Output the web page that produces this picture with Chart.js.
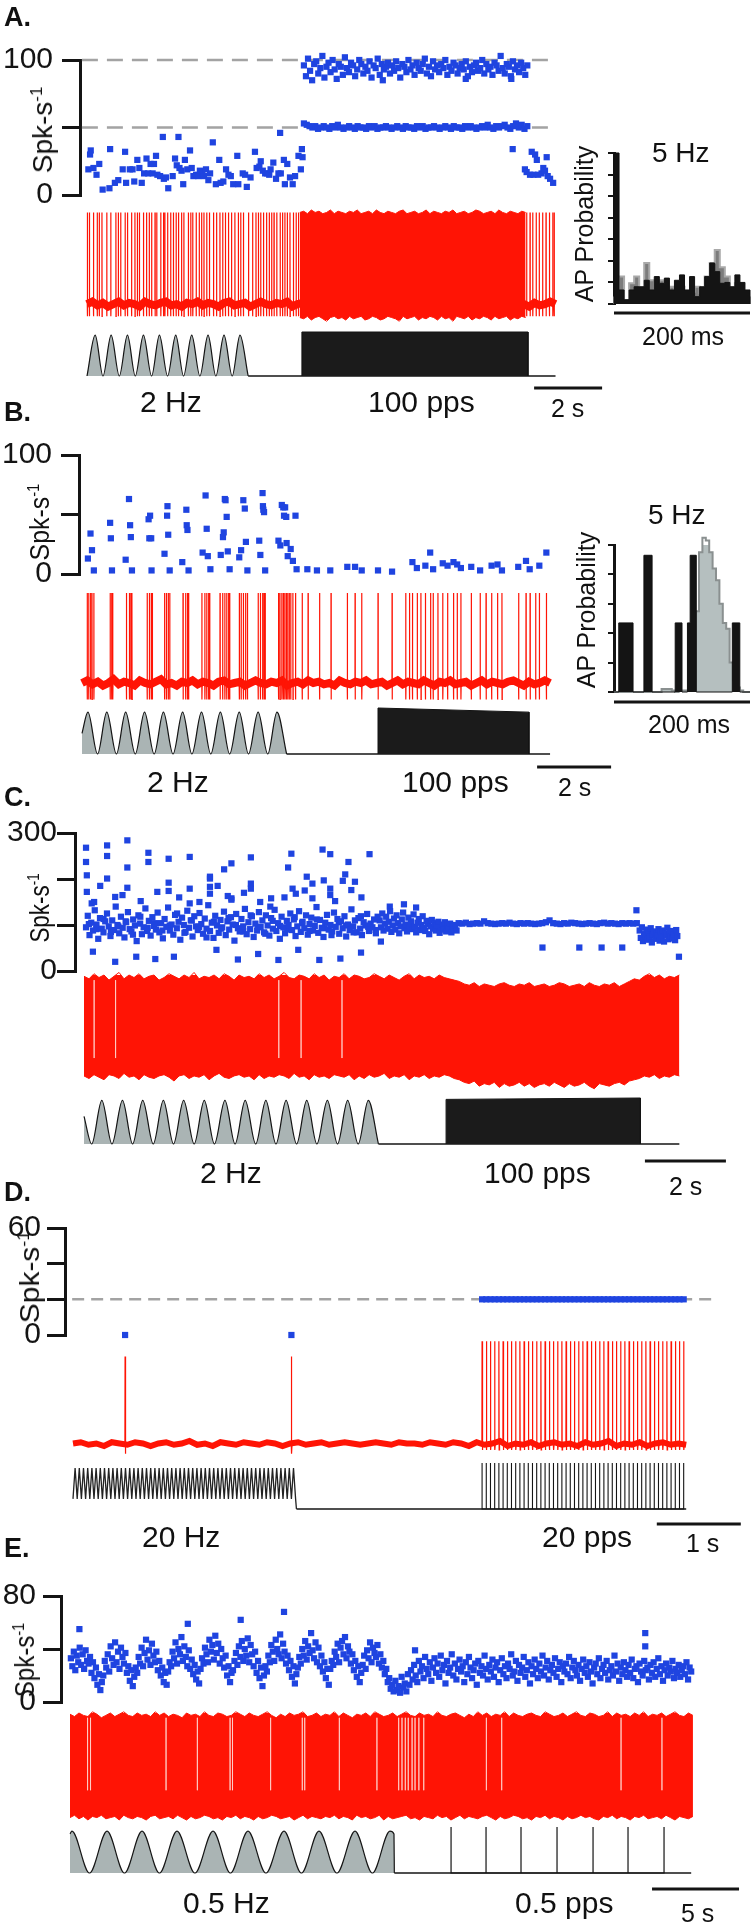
<!DOCTYPE html>
<html>
<head>
<meta charset="utf-8">
<script src="https://cdn.jsdelivr.net/npm/chart.js@4.4.1/dist/chart.umd.min.js"></script>
<style>
  body { margin: 0; background: #fff; }
  #fig { position: relative; width: 755px; height: 1925px; overflow: hidden; font-family: 'Liberation Sans', Arial, sans-serif; color: #111; }
  #fig canvas { position: absolute; }
  .t { position: absolute; white-space: nowrap; line-height: 1; }
</style>
</head>
<body>
<div id="fig"></div>
<script>
// ---------- Panel A data (time in s, rate in spk/s, trace in mV) ----------
const aRatePts = [[0.04,19],[0.09,30],[0.11,33],[0.19,20],[0.28,15],[0.36,23],[0.46,4],[0.66,5],[0.68,34],[0.82,9],[0.92,11],[1.05,19],[1.12,32],[1.15,9],[1.26,19],[1.34,19],[1.39,10],[1.48,26],[1.54,20],[1.61,9],[1.68,16],[1.75,27],[1.80,16],[1.87,23],[1.93,16],[1.97,23],[2.03,29],[2.07,15],[2.15,14],[2.23,43],[2.26,12],[2.32,13],[2.39,5],[2.52,14],[2.59,27],[2.64,22],[2.69,43],[2.72,20],[2.78,18],[2.83,8],[2.88,26],[2.95,19],[3.03,33],[3.08,20],[3.13,14],[3.21,15],[3.27,14],[3.32,18],[3.39,16],[3.44,14],[3.50,19],[3.57,11],[3.62,16],[3.70,39],[3.79,8],[3.89,26],[3.93,9],[4.01,10],[4.09,19],[4.16,15],[4.23,14],[4.30,8],[4.42,29],[4.45,8],[4.58,16],[4.65,15],[4.70,6],[4.81,13],[4.94,32],[4.99,20],[5.07,21],[5.11,25],[5.17,18],[5.24,16],[5.30,16],[5.36,15],[5.40,19],[5.48,24],[5.56,12],[5.63,16],[5.68,46],[5.70,16],[5.79,26],[5.82,8],[5.89,23],[5.97,13],[6.05,8],[6.12,14],[6.22,29],[6.29,19],[6.32,34],[6.34,28],
  [12.52,34],[12.88,19],[12.93,17],[13.03,15],[13.08,32],[13.13,15],[13.18,30],[13.23,26],[13.27,15],[13.37,16],[13.42,20],[13.47,18],[13.52,28],[13.55,14],[13.62,12],[13.71,9]];
const aFastSpan = [6.38, 12.95];
const aFastHi = [96,88,101,92,85,97,99,90,94,103,87,95,98,91,100,93,86,97,95,89,102,94,91,98,96,88,93,100,97,90,95,92,99,87,96,94,101,89,97,93,95,98,90,96,92,99,94,87,97,95,91,100,93,96,89,98,94,92,97,101,90,95,88,99,93,96,91,97,94,100,89,95,92,98,96,90,94,97,93,99,88,95,91,96,98,92,94,100,90,97,93,95,89,98,96,92,103,94,90,97,95,88,99,93,96,91,98,94,89,96];
const aFastMid = [53,52,51,50,51,49,50,51,50,49,51,50,52,50,49,50,51,50,49,51,50,50,49,51,50,51,49,50,50,51,50,49,50,51,50,49,51,50,50,49,51,50,51,49,50,50,51,50,49,50,51,50,49,51,50,50,49,51,50,51,50,49,50,51,50,52,50,49,51,50,51,52,50,49,51,53,50,52,49,51];
const aFastOut = [[6.45,104],[7.2,106],[8.84,113],[8.91,106],[10.68,106],[11.46,105],[12.88,105],[8.70,85],[11.14,86],[12.48,86]];
const aGuideSpan = [-0.15, 13.76];
const aGuideLevels = [100, 50];
const aSpikeT = [0.01,0.07,0.19,0.30,0.36,0.44,0.58,0.70,0.85,0.92,0.99,1.12,1.19,1.31,1.41,1.48,1.54,1.66,1.75,1.83,1.90,2.00,2.05,2.17,2.25,2.29,2.37,2.46,2.54,2.62,2.69,2.78,2.85,2.98,3.05,3.11,3.21,3.30,3.37,3.44,3.52,3.60,3.72,3.81,3.91,3.99,4.07,4.16,4.25,4.35,4.45,4.52,4.60,4.75,4.87,4.97,5.04,5.11,5.19,5.28,5.36,5.43,5.50,5.58,5.68,5.75,5.82,5.89,5.97,6.07,6.15,6.22,
  12.93,13.03,13.11,13.21,13.30,13.40,13.50,13.60,13.70,13.74];
const aBaseNoise = [-62,-60,-63,-61,-64,-62,-60,-63,-61,-62,-64,-60,-62,-63,-61,-60,-63,-62,-64,-61,-62,-60,-63,-61,-62,-64,-61,-60,-63,-62,-61,-64,-62,-60,-62,-63,-61,-62,-60,-64,-62,-61,-63,-60,-62,-61,-63,-62,-64,-60,-62,-63,-61,-62,-60,-63,-62,-61,-64,-62,-60,-63,-61,-62,-63,-60,-62,-64,-61,-62,-60,-63,-62,-61,-64,-62,-60,-63,-61,-62,-63,-61,-60,-62,-64,-61,-63,-62,-60,-62];
const aDenseSpan = [6.26, 12.9];
const aDenseTop = [13,14,12,15,13,14,12,13,15,12,14,13,12,14,13,15,12,13,14,12,15,13,12,14,13,12,14,15,12,13,14,12,13,15,12,14,13,12,14,13,15,12,13,14,12,13,15,14,12,13,14,12,15,13,12,14,13,12,14,13];
const aDenseBot = [-73,-74,-72,-75,-73,-72,-74,-76,-73,-72,-74,-73,-75,-72,-74,-73,-72,-75,-74,-72,-73,-75,-74,-72,-73,-74,-76,-72,-74,-73,-72,-75,-73,-74,-72,-73,-75,-72,-74,-73,-76,-72,-73,-74,-72,-75,-73,-74,-72,-73,-75,-72,-74,-73,-72,-75,-73,-74,-72,-73];
const aTraceEnd = 13.78;
const aStimT = [0,0.24,0.47,0.71,0.95,1.19,1.42,1.66,1.90,2.13,2.37,2.61,2.84,3.08,3.32,3.56,3.79,4.03,4.27,4.50,4.74];
const aBlock = [6.32, 12.97];
const aScaleBar = [13.15, 2];
const aHistBlack = [0.70,0.065,0.02,0.065,0.08,0.08,0.11,0.065,0.127,0.096,0.12,0.065,0.11,0.135,0.065,0.127,0.034,0.08,0.127,0.19,0.15,0.096,0.10,0.08,0.135,0.10,0.065];
const aHistGray = [0.03,0.127,0.01,0.096,0.127,0.065,0.19,0.11,0.05,0.11,0.05,0.08,0.05,0.08,0.05,0.057,0.08,0.05,0.127,0.19,0.25,0.17,0.127,0.065,0.096,0.05,0.03];

// ---------- Panel B ----------
const bRatePts = [[0.16,13],[0.23,34],[0.27,20],[0.32,3],[0.76,43],[0.78,30],[0.81,3],[1.18,12],[1.27,63],[1.30,41],[1.32,31],[1.35,3],[1.80,46],[1.82,30],[1.84,49],[1.87,30],[1.88,3],[2.23,17],[2.30,49],[2.31,57],[2.33,33],[2.37,3],[2.71,10],[2.82,54],[2.83,41],[2.85,37],[2.88,3],[3.26,18],[3.34,66],[3.37,38],[3.40,15],[3.47,4],[3.75,16],[3.81,31],[3.83,35],[3.86,63],[3.88,62],[3.91,48],[3.94,19],[3.99,4],[4.25,14],[4.30,20],[4.36,62],[4.40,55],[4.43,27],[4.47,3],[4.79,28],[4.82,16],[4.88,68],[4.89,57],[4.90,54],[4.92,52],[4.95,3],[5.31,28],[5.36,24],[5.40,58],[5.44,56],[5.46,49],[5.49,56],[5.49,109],[5.52,48],[5.53,26],[5.56,15],[5.64,21],[5.70,11],[5.77,49],[5.80,4],[6.09,4],[6.35,3],[6.71,3],[7.17,6],[7.38,6],[7.56,3],[8.00,3],[8.38,2],[8.93,10],[9.05,5],[9.28,7],[9.41,18],[9.49,4],[9.75,9],[9.88,7],[10.04,10],[10.14,8],[10.24,5],[10.52,6],[10.76,3],[11.07,7],[11.23,8],[11.35,3],[11.79,6],[12.00,11],[12.10,4],[12.36,7],[12.55,18]];
const bSpikeT = [0.14,0.18,0.23,0.27,0.32,0.76,0.80,0.83,1.20,1.28,1.32,1.35,1.76,1.82,1.87,1.90,2.23,2.28,2.33,2.37,2.73,2.80,2.85,2.88,3.24,3.32,3.37,3.42,3.45,3.73,3.80,3.86,3.91,3.96,3.99,4.25,4.30,4.36,4.42,4.47,4.76,4.82,4.88,4.92,4.95,5.31,5.35,5.40,5.44,5.48,5.52,5.56,5.60,5.64,5.70,
  5.77,5.95,6.11,6.42,6.73,7.17,7.38,7.56,8.00,8.38,8.75,8.85,8.93,9.06,9.16,9.28,9.42,9.49,9.62,9.75,9.88,10.04,10.14,10.24,10.52,10.76,10.92,11.07,11.23,11.35,11.80,12.00,12.11,12.26,12.36,12.55];
const bBaseNoise = [-60,-58,-61,-59,-62,-60,-57,-61,-59,-60,-62,-58,-60,-61,-59,-57,-61,-60,-62,-59,-60,-58,-61,-59,-60,-62,-59,-58,-61,-60,-59,-62,-60,-58,-60,-61,-59,-60,-58,-62,-60,-59,-61,-58,-60,-59,-61,-60,-62,-58,-60,-61,-59,-60,-58,-61,-60,-59,-62,-60,-58,-61,-59,-60,-61,-58,-60,-62,-59,-60,-58,-61,-60,-59,-62,-60,-58,-61,-59,-60,-61,-59,-58,-60,-62,-59,-61,-60,-58,-60];
const bTraceEnd = 12.65;
const bStimStart = [0, 0.45];
const bStimT = [0.16,0.42,0.67,0.93,1.18,1.44,1.69,1.95,2.20,2.46,2.72,2.97,3.23,3.48,3.74,3.99,4.25,4.50,4.76,5.02,5.27,5.53];
const bBlock = [8.0, 12.08];
const bBlockTop = [1.0, 0.91];
const bScaleBar = [12.30, 2];
const bHistGray = [0,0,0,0,0,0,0,0,0,0,0,0,0,0,0.02,0.02,0.02,0.01,0,0.01,0.01,0.01,0.02,0.02,0.55,0.95,1.05,1.03,0.95,0.84,0.76,0.6,0.47,0.43,0.2,0.08,0.03,0.01,0,0];
const bHistBlack = [[0,0],[7,0.47],[28,0],[44,0.93],[56,0],[90,0.47],[100,0],[108,0.47],[112,0.93],[121,0],[174,0.47],[185,0],[200,0]];

// ---------- Panel C ----------
const cSeg1 = [95,120,78,105,88,132,101,70,115,92,84,108,125,97,76,110,89,140,100,82,118,94,73,106,128,91,86,112,99,65,121,103,80,95,136,87,109,77,117,98,90,127,84,104,71,113,96,138,88,101,79,122,93,107,68,116,100,85,131,94,110,75,119,97,89,126,102,81,114,92,143,87,105,72,120,99,83,111,95,129,78,108,90,117,101,66,124,93,86,113,97,135,80,106,91,119,74,103,88,128,96,110,84,121,99,77,115,92,133,87,104,70,118,95,82,109,100,125,89,112,76,97,130,85,107,93,121,79,102,116,88,98,139,83,111,94,74,105,122,90,100,86,127,96,113,81,108,93,119,75,101,89,134,97,110,84,115,92,78,106,99,124,87,103,95,112,82,118];
const cSeg1Span = [0.05, 7.25];
const cSeg1b = [102,91,113,85,97,108,79,118,94,104,88,99,125,83,110,96,73,107,92,115,100,86,121,95,81,109,98,90,117,104,87,112,93,78,106,99,84,119,96,89];
const cSeg1bSpan = [0.12, 7.2];
const cSeg2 = [110,95,125,88,103,118,92,107,130,85,99,114,90,121,104,82,97,112,127,93,101,86,116,98,108,91,123,96,84,105,113,89,100,119,94,87,109,102,80,97,111,92,104,88,99,107,83,95,101,90,106,86,98,93,103,84,96,91,100,88];
const cSeg2Span = [7.3, 9.2];
const cSeg3 = [104,103,105,102,103,104,103,108,104,103,102,103,104,103,105,103,102,104,103,104,103,102,103,104,106,110,104,103,102,104,103,105,104,103,102,103,104,103,102,104,105,103,104,103,102,104,103,104,103,104];
const cSeg3Span = [9.25, 13.65];
const cSeg4 = [88,72,95,65,80,76,90,68,84,74,93,62,79,86,70,82,77,91,66,85,73,88,64,81,78,94,69,83,75,87,71,80,67,89,76];
const cSeg4Span = [13.72, 14.65];
const cOut = [[0.05,268],[0.05,237],[0.07,208],[0.07,172],[0.57,273],[0.57,250],[0.57,201],[1.07,284],[1.07,225],[1.07,181],[1.59,257],[1.59,237],[2.09,244],[2.09,192],[2.09,174],[2.61,248],[2.61,179],[3.11,201],[3.11,183],[3.11,168],[3.46,221],[3.64,234],[3.64,158],[4.12,247],[4.12,190],[4.12,179],[4.62,158],[5.04,225],[5.12,255],[5.15,179],[5.64,190],[5.89,264],[6.08,254],[5.92,197],[6.08,179],[6.39,196],[6.53,237],[6.69,194],[7.05,254],[0.19,147],[0.77,161],[1.81,172],[2.61,147],[3.11,205],[3.64,155],[4.60,140],[5.23,168],[5.64,158],[6.08,165],[6.60,176],[7.90,145],
  [0.25,150],[0.95,165],[1.40,152],[2.35,160],[2.85,150],[3.55,163],[3.95,170],[4.35,150],[4.95,160],[5.45,175],[6.20,152],[6.85,160],[7.55,140],[8.2,138],[0.4,185],[3.3,185],[5.5,205],[6.45,210],
  [0.22,42],[0.77,20],[1.29,31],[1.76,26],[2.22,31],[3.27,46],[3.80,25],[4.30,37],[4.80,24],[5.29,46],[5.81,24],[6.33,27],[6.84,40],[7.33,64],[14.69,31],[13.64,132],[11.32,51],[12.23,51],[12.78,51],[13.29,51]];
const cTraceEnd = 14.7;
const cEnvTop = [14,12,16,13,15,11,14,17,12,15,13,16,12,14,15,11,13,16,14,12,15,13,17,12,14,13,15,12,16,14,11,15,13,14,12,16,13,15,12,14,17,13,12,15,14,12,16,13,15,11,14,13,16,12,15,14,12,13,16,14,12,15,13,11,14,16,12,15,13,14,12,15,13,12,11,10,
  8,7,9,6,8,7,6,8,9,7,6,8,7,9,6,7,8,6,7,9,8,6,7,8,6,9,7,6,8,7,9,6,8,10,12,11,
  14,16,13,15,12,14,13,15];
const cEnvBot = [-64,-66,-63,-65,-67,-63,-64,-66,-62,-65,-64,-67,-63,-65,-66,-64,-63,-65,-68,-64,-63,-66,-64,-65,-63,-67,-64,-62,-65,-66,-64,-63,-65,-64,-67,-63,-66,-64,-65,-63,-64,-66,-62,-65,-64,-67,-63,-65,-64,-66,-63,-64,-65,-63,-67,-64,-66,-63,-65,-64,-62,-66,-64,-65,-63,-67,-64,-65,-63,-66,-64,-65,-63,-64,-66,-67,
  -69,-70,-68,-72,-70,-71,-69,-73,-70,-72,-71,-69,-72,-70,-73,-71,-70,-72,-69,-71,-73,-70,-72,-71,-69,-72,-74,-70,-71,-72,-70,-69,-71,-68,-67,-66,
  -64,-65,-63,-66,-64,-65,-63,-64];
const cGapT = [0.25,0.78,4.81,5.36,6.37];
const cStimStart = [0, 0.6];
const cStimT = [0.19,0.44,0.69,0.95,1.20,1.45,1.71,1.96,2.21,2.46,2.72,2.97,3.22,3.48,3.73,3.98,4.24,4.49,4.74,4.99,5.25,5.50,5.75,6.01,6.26,6.51,6.77,7.02,7.27];
const cBlock = [8.94, 13.74];
const cBlockTop = [0.97, 1.0];
const cScaleBar = [13.85, 2];

// ---------- Panel D ----------
const dLoneRate = [[0.62,0],[2.60,0]];
const dEvokedRate = 20;
const dGuideSpan = [-0.01, 7.67];
const dGuideLevel = 20;
const dLoneSpikeT = [0.62, 2.60];
const dPulseT = [4.87,4.92,4.97,5.02,5.07,5.12,5.17,5.22,5.27,5.32,5.37,5.42,5.47,5.52,5.57,5.62,5.67,5.72,5.77,5.82,5.87,5.92,5.97,6.02,6.07,6.12,6.17,6.22,6.27,6.32,6.37,6.42,6.47,6.52,6.57,6.62,6.67,6.72,6.77,6.82,6.87,6.92,6.97,7.02,7.07,7.12,7.17,7.22,7.27];
const dBaseNoise = [-66,-65,-67,-66,-68,-65,-66,-67,-65,-66,-68,-66,-65,-67,-66,-64,-67,-66,-68,-65,-66,-67,-65,-66,-67,-65,-66,-68,-66,-65,-67,-66,-65,-67,-66,-65,-66,-67,-66,-65,-66,-67,-65,-66,-66,-67,-65,-66,-67,-65,-66,-68,-65,-67,-66,-64,-68,-66,-67,-65,-68,-66,-65,-67,-66,-68,-65,-67,-66,-64,-68,-66,-67,-65,-68,-66,-65,-67,-66,-67];
const dTraceEnd = 7.30;
const dStimT = [0,.025,.05,.075,.1,.125,.15,.175,.2,.225,.25,.275,.3,.325,.35,.375,.4,.425,.45,.475,.5,.525,.55,.575,.6,.625,.65,.675,.7,.725,.75,.775,.8,.825,.85,.875,.9,.925,.95,.975,1,1.025,1.05,1.075,1.1,1.125,1.15,1.175,1.2,1.225,1.25,1.275,1.3,1.325,1.35,1.375,1.4,1.425,1.45,1.475,1.5,1.525,1.55,1.575,1.6,1.625,1.65,1.675,1.7,1.725,1.75,1.775,1.8,1.825,1.85,1.875,1.9,1.925,1.95,1.975,2,2.025,2.05,2.075,2.1,2.125,2.15,2.175,2.2,2.225,2.25,2.275,2.3,2.325,2.35,2.375,2.4,2.425,2.45,2.475,2.5,2.525,2.55,2.575,2.6,2.625,2.65];
const dScaleBar = [6.95, 1];

// ---------- Panel E ----------
const eSeg1 = [33,27,38,24,35,30,41,28,36,25,39,31,29,34,22,30,18,26,13,21,9,15,
  20,31,26,36,23,42,33,28,45,30,38,25,41,34,29,37,22,27,16,24,12,19,
  26,22,34,29,41,27,37,47,32,39,28,44,35,30,38,24,31,20,26,15,22,13,
  23,30,27,38,33,45,29,40,36,49,31,42,34,27,39,25,32,21,28,17,23,14,
  25,33,29,41,36,30,47,38,43,32,50,37,44,29,40,33,26,35,20,27,15,22,
  24,31,37,28,42,34,46,31,40,35,48,30,43,36,27,38,22,31,18,26,12,20,
  27,23,35,30,43,38,31,47,40,36,51,33,44,38,29,35,24,31,19,27,14,21,
  26,34,29,40,35,46,32,42,37,52,39,33,45,30,41,27,35,23,30,18,25,13,
  25,31,28,38,34,44,30,41,46,36,49,33,42,38,29,36,24,31,19,27,15,22,
  28,35,25,39,33,45,30,41,37,34,43,29,36,26,31,21,25,15,18,10,13,8];
const eSeg1Span = [0.05, 18.6];
const eSeg2 = [16,9,12,7,19,11,14,8,21,13,24,17,28,20,15,31,23,27,18,34,25,21,30,16,26,33,22,29,19,35,24,28,14,31,22,26,36,20,29,17,25,32,23,27,15,30,21,34,26,18,24,29,13,31,22,27,20,35,25,17,28,23,32,19,26,30,15,24,33,21,27,18,29,25,36,20,23,31,16,28,22,26,34,19,24,30,14,27,21,32,25,18,29,23,35,20,26,31,17,24,28,22,33,19,25,30,15,27,23,29,21,34,18,26,31,24,20,28,16,25,32,22,27,19,30,23,14,26,29,21,33,18,25,28,22,31,17,24,27,20,35,23,29,16,26,21,30,24,19,28,22,32,18,25,27,15,29,23,20,31,24,26,17,28,22,30,19,25,33,21,27,16,24,29,20,26,23,31,18,25,22,28,19,24,27,21,30,17,26,23];
const eSeg2Span = [18.7, 35.7];
const eOut = [[12.30,68],[9.81,62],[6.77,59],[0.54,55],[33.06,52],[33.06,42],[19.83,39]];
const eTraceEnd = 35.8;
const eEnvTop = [14,12,15,13,12,16,14,11,13,15,12,14,16,13,12,15,13,14,12,16,13,15,12,14,13,11,15,13,14,12,16,13,12,15,14,12,13,16,14,12,15,13,12,14,16,13,11,14,12,15,13,14,16,12,13,15,12,14,13,16,12,15,13,11,14,13,15,12,16,14,12,13,15,12,14,16,13,12,15,13,14,12,16,13,12,14,15,13,11,14,12,16,13,15,12,14,13,16,12,15,13,12,14,15,13,12,16,14,12,13,15,12,14,16,13,12,15,14,12,13,16,12,15,13,14,12,15,13,16,12,14,13,15,12,14,16,13,12,15,13];
const eEnvBot = [-73,-71,-74,-72,-75,-72,-73,-71,-74,-73,-72,-75,-71,-73,-74,-72,-73,-75,-72,-71,-74,-73,-72,-74,-71,-73,-75,-72,-74,-73,-71,-72,-74,-73,-75,-72,-73,-71,-74,-72,-73,-75,-72,-74,-73,-71,-72,-74,-73,-72,-75,-73,-71,-74,-72,-73,-74,-72,-73,-71,-74,-72,-73,-75,-71,-73,-72,-74,-73,-71,-75,-72,-74,-73,-72,-71,-74,-73,-75,-72,-73,-74,-71,-73,-72,-75,-73,-71,-74,-72,-73,-74,-72,-71,-73,-75,-72,-74,-73,-71,-72,-74,-73,-75,-72,-73,-71,-74,-72,-73,-75,-72,-74,-73,-71,-73,-72,-74,-75,-72,-73,-71,-74,-72,-73,-75,-72,-73,-71,-74,-73,-72,-74,-71,-73,-75,-72,-73,-74,-72];
const eGapT = [1.01,1.18,5.52,7.32,9.2,9.34,11.53,13.35,13.49,15.48,17.64,18.89,19.08,19.27,19.44,19.66,19.83,20.05,20.33,23.93,24.81,31.67,34.02];
const eStimStart = [0, 0.85];
const eStimT = [0.11,1.12,2.13,3.13,4.14,5.14,6.15,7.18,8.22,9.22,10.23,11.26,12.30,13.30,14.31,15.34,16.38,17.38,18.39];
const eStimEnd = [[18.62,0.85],[18.64,0]];
const ePulseT = [21.9,23.91,25.92,27.99,30.06,32.07,34.14];
const eScaleBar = [33.45, 5];

// ---------- layout (page pixels) ----------
const W = 755;
const FONT = "'Liberation Sans', Arial, sans-serif";
const RED = '#ff1405', BLUE = '#1f44e0', INK = '#141414', DASH = '#a3a3a3', SINE_FILL = '#aab4b4';
const PA = { L: 80, R: 560, x0: 87, pps: 34 };
const PB = { L: 79, R: 556, x0: 82, pps: 37 };
const PC = { L: 75, R: 686, x0: 84, pps: 40.5 };
const PD = { L: 65, R: 722, x0: 73, pps: 84 };
const PE = { L: 61, R: 700, x0: 70, pps: 17.4 };

Chart.defaults.font.family = FONT;
Chart.defaults.color = INK;
const fig = document.getElementById('fig');

function canvasAt(left, top, w, h) {
    const c = document.createElement('canvas');
    c.width = w; c.height = h;
    c.style.left = left + 'px'; c.style.top = top + 'px';
    c.style.width = w + 'px'; c.style.height = h + 'px';
    fig.appendChild(c);
    return c.getContext('2d');
}

function baseOpts() {
    return { animation: false, responsive: false, events: [],
        plugins: { legend: { display: false }, tooltip: { enabled: false } } };
}

// helpers turning the arrays into {x, y} points
const pts = pairs => pairs.map(([x, y]) => ({ x, y }));
const evenly = (vals, [t0, t1]) => vals.map((y, i) => ({ x: t0 + (t1 - t0) * i / (vals.length - 1), y }));
const flat = ([t0, t1], y) => [{ x: t0, y }, { x: t1, y }];

function spikes(times, base, peak, trough) {
    const out = [];
    times.forEach(t => out.push({ x: t - 0.002, y: base }, { x: t, y: peak }, { x: t + 0.003, y: trough }, { x: t + 0.008, y: base }));
    return out;
}
function wave(times, lo, hi, firstHi, head, tail) {
    const out = head ? [{ x: head[0], y: head[1] }] : [];
    times.forEach((t, i) => out.push({ x: t, y: ((i % 2 === 0) === firstHi) ? hi : lo }));
    (tail || []).forEach(([x, y]) => out.push({ x, y }));
    return out;
}
function pulses(times, top) {
    const out = [];
    times.forEach(t => out.push({ x: t, y: 0 }, { x: t, y: top }, { x: t, y: 0 }));
    return out;
}
function gaps(times, y0, y1) {
    const out = [];
    times.forEach(t => out.push({ x: t, y: y0 }, { x: t, y: y1 }, { x: t, y: null }));
    return out;
}
function bins(vals, width) {
    return [{ x: 0, y: 0 }, ...vals.map((y, i) => ({ x: i * width, y })), { x: vals.length * width, y: 0 }];
}

// dataset styles
const dots = data => ({ data, showLine: false, pointStyle: 'rect', pointRadius: 4.4, pointBackgroundColor: BLUE, pointBorderWidth: 0 });
const dashed = (data, dash) => ({ data, borderColor: DASH, borderWidth: 2.5, borderDash: dash });
const red = (data, w) => ({ data, borderColor: RED, borderWidth: w || 1.2 });
const ink = (data, w) => ({ data, borderColor: INK, borderWidth: w || 1.6 });
const sine = data => ({ data, borderColor: INK, borderWidth: 1.2, backgroundColor: SINE_FILL, fill: 'origin', cubicInterpolationMode: 'monotone' });
const block = ([a, b], [h1, h2]) => ({ data: [{ x: a, y: 0 }, { x: a, y: h1 }, { x: b, y: h2 }, { x: b, y: 0 }],
    borderColor: INK, borderWidth: 1, backgroundColor: '#1b1b1b', fill: 'origin' });
const envelope = (top, bot, span) => [
    { data: evenly(top, span), borderColor: RED, borderWidth: 1, backgroundColor: RED, fill: '+1' },
    { data: evenly(bot, span), borderColor: RED, borderWidth: 1 }];
const whiteGaps = data => ({ data, borderColor: 'rgba(255,225,220,0.55)', borderWidth: 1 });

function scaleBar([start, len], dy) {
    return { id: 'scaleBar', afterDraw(chart) {
        const x = chart.scales.x, c = chart.ctx, y = chart.chartArea.bottom + dy;
        c.save(); c.strokeStyle = INK; c.lineWidth = 3; c.beginPath();
        c.moveTo(x.getPixelForValue(start), y); c.lineTo(x.getPixelForValue(start + len), y);
        c.stroke(); c.restore();
    } };
}

function rateAxis(width, ax) {
    return {
        display: true, position: 'left',
        afterBuildTicks: s => { s.ticks = ax.ticks.map(v => ({ value: v })); },
        afterFit: s => { s.width = width; },
        ticks: { autoSkip: false, color: INK, padding: ax.pad, font: { size: 30 }, callback: v => ax.labels.includes(v) ? String(v) : '' },
        grid: { drawOnChartArea: false, drawTicks: true, tickLength: 18, lineWidth: 3, color: INK },
        border: { display: true, color: INK, width: 3 }
    };
}

function rowChart(p, r, datasets, plugins) {
    const ctx = canvasAt(0, r.top - r.padT, W, r.bottom - r.top + r.padT + r.padB);
    const y = { type: 'linear', min: r.min, max: r.max, display: false };
    if (r.axis) Object.assign(y, rateAxis(p.L, r.axis));
    return new Chart(ctx, {
        type: 'line',
        data: { datasets: datasets.map(d => Object.assign({ clip: false, pointRadius: 0, borderWidth: 1.2, fill: false }, d)) },
        options: Object.assign(baseOpts(), {
            layout: { padding: { left: r.axis ? 0 : p.L, right: W - p.R, top: r.padT, bottom: r.padB } },
            scales: { x: { type: 'linear', min: (p.L - p.x0) / p.pps, max: (p.R - p.x0) / p.pps, display: false }, y }
        }),
        plugins: plugins || []
    });
}

function insetChart(box, yTicks, datasets, barDy) {
    const AW = 12, padT = 16, padB = 16, padR = W - box.right;
    const ctx = canvasAt(box.left - AW, box.top - padT, box.right - box.left + AW + padR, box.bottom - box.top + padT + padB);
    return new Chart(ctx, {
        type: 'line',
        data: { datasets: datasets.map(d => Object.assign({ clip: false, pointRadius: 0, stepped: true, fill: 'origin' }, d)) },
        options: Object.assign(baseOpts(), {
            layout: { padding: { left: 0, right: padR, top: padT, bottom: padB } },
            scales: {
                x: { type: 'linear', min: 0, max: 200, display: false },
                y: { type: 'linear', min: 0, max: yTicks[yTicks.length - 1], position: 'left',
                    afterBuildTicks: s => { s.ticks = yTicks.map(v => ({ value: v })); },
                    afterFit: s => { s.width = AW; },
                    ticks: { display: false, autoSkip: false },
                    grid: { drawOnChartArea: false, drawTicks: true, tickLength: 6, lineWidth: 2, color: INK },
                    border: { display: true, color: INK, width: 3 } }
            }
        }),
        plugins: [scaleBar([0, 200], barDy)]
    });
}

function text(str, x, base, size, bold) {
    const d = document.createElement('div');
    d.className = 't';
    d.textContent = str;
    d.style.fontSize = size + 'px';
    d.style.left = x + 'px';
    d.style.top = (base - 0.8465 * size) + 'px';
    if (bold) d.style.fontWeight = 'bold';
    fig.appendChild(d);
}
function vtext(html, cx, cy, size, stretch) {
    const d = document.createElement('div');
    d.className = 't';
    d.innerHTML = html;
    d.style.fontSize = size + 'px';
    d.style.left = cx + 'px';
    d.style.top = cy + 'px';
    d.style.transform = `translate(-50%,-50%) rotate(-90deg) scaleX(${stretch})`;
    fig.appendChild(d);
}
const SPK = 'Spk-s<span style="font-size:0.6em;position:relative;top:-0.6em">-1</span>';

// ---------- Panel A ----------
rowChart(PA, { top: 60, bottom: 202, min: 0, max: 100, padT: 30, padB: 20, axis: { ticks: [0, 50, 100], labels: [0, 100], pad: 9 } }, [
    dots(pts(aRatePts)),
    dots(evenly(aFastHi, aFastSpan)),
    dots(evenly(aFastMid, aFastSpan)),
    dots(pts(aFastOut)),
    dashed(flat(aGuideSpan, aGuideLevels[0]), [16, 9]),
    dashed(flat(aGuideSpan, aGuideLevels[1]), [16, 9])
]);
rowChart(PA, { top: 210, bottom: 320, min: -75, max: 15, padT: 8, padB: 8 }, [
    ...envelope(aDenseTop, aDenseBot, aDenseSpan),
    red(spikes(aSpikeT, -62, 13, -72)),
    red(evenly(aBaseNoise, [0, aTraceEnd]), 8)
]);
rowChart(PA, { top: 332, bottom: 376, min: 0, max: 1, padT: 6, padB: 18 }, [
    sine(wave(aStimT, 0, 0.93, false)),
    block(aBlock, [1, 1]),
    ink(flat([aStimT[aStimT.length - 1], aTraceEnd], 0))
], [scaleBar(aScaleBar, 12)]);
insetChart({ left: 614, right: 750, top: 153, bottom: 304 }, [0, 0.1, 0.2, 0.3, 0.4, 0.5, 0.6, 0.7], [
    { data: bins(aHistBlack, 200 / aHistBlack.length), borderColor: '#111', borderWidth: 1, backgroundColor: '#141414' },
    { data: bins(aHistGray, 200 / aHistGray.length), borderColor: '#a9a9a9', borderWidth: 2, backgroundColor: '#7c7c7c' }
], 9);

// ---------- Panel B ----------
rowChart(PB, { top: 453, bottom: 581, min: 0, max: 100, padT: 25, padB: 20, axis: { ticks: [0, 50, 100], labels: [0, 100], pad: 9 } }, [
    dots(pts(bRatePts))
]);
rowChart(PB, { top: 588, bottom: 702, min: -75, max: 15, padT: 8, padB: 8 }, [
    red(spikes(bSpikeT, -60, 11, -73)),
    red(evenly(bBaseNoise, [0, bTraceEnd]), 8)
]);
rowChart(PB, { top: 708, bottom: 754, min: 0, max: 1, padT: 6, padB: 18 }, [
    sine(wave(bStimT, 0, 0.91, true, bStimStart)),
    block(bBlock, bBlockTop),
    ink(flat([bStimT[bStimT.length - 1], bTraceEnd], 0))
], [scaleBar(bScaleBar, 13)]);
insetChart({ left: 614, right: 750, top: 545, bottom: 692 }, [0, 0.2, 0.4, 0.6, 0.8, 1.0], [
    { data: pts(bHistBlack), borderColor: '#111', borderWidth: 1, backgroundColor: '#141414' },
    { data: bins(bHistGray, 200 / bHistGray.length), borderColor: '#8a9090', borderWidth: 2, backgroundColor: '#b5bfbf' }
], 10);

// ---------- Panel C ----------
rowChart(PC, { top: 833, bottom: 971, min: 0, max: 300, padT: 22, padB: 20, axis: { ticks: [0, 100, 200, 300], labels: [0, 300], pad: 0 } }, [
    dots(evenly(cSeg1, cSeg1Span)),
    dots(evenly(cSeg1b, cSeg1bSpan)),
    dots(evenly(cSeg2, cSeg2Span)),
    dots(evenly(cSeg3, cSeg3Span)),
    dots(evenly(cSeg4, cSeg4Span)),
    dots(pts(cOut))
]);
rowChart(PC, { top: 975, bottom: 1090, min: -75, max: 15, padT: 8, padB: 8 }, [
    whiteGaps(gaps(cGapT, 11, -50)),
    ...envelope(cEnvTop, cEnvBot, [0, cTraceEnd])
]);
rowChart(PC, { top: 1098, bottom: 1144, min: 0, max: 1, padT: 6, padB: 22 }, [
    sine(wave(cStimT, 0, 0.95, false, cStimStart)),
    block(cBlock, cBlockTop),
    ink(flat([cStimT[cStimT.length - 1], cTraceEnd], 0))
], [scaleBar(cScaleBar, 17)]);

// ---------- Panel D ----------
rowChart(PD, { top: 1226, bottom: 1339, min: 0, max: 60, padT: 22, padB: 20, axis: { ticks: [0, 20, 40, 60], labels: [0, 60], pad: 6 } }, [
    dots(dPulseT.map(t => ({ x: t, y: dEvokedRate }))),
    dots(pts(dLoneRate)),
    dashed(flat(dGuideSpan, dGuideLevel), [12, 7])
]);
rowChart(PD, { top: 1340, bottom: 1455, min: -75, max: 15, padT: 8, padB: 8 }, [
    red(spikes(dPulseT, -66, 14, -71)),
    red(spikes(dLoneSpikeT, -66, 2, -74)),
    red(evenly(dBaseNoise, [0, dTraceEnd]), 6)
]);
rowChart(PD, { top: 1463, bottom: 1509, min: 0, max: 1, padT: 6, padB: 20 }, [
    { data: wave(dStimT, 0.22, 0.89, false, null, [[2.66, 0]]), borderColor: '#222', borderWidth: 1.3 },
    ink(pulses(dPulseT, 1), 1.1),
    ink(flat([2.66, dTraceEnd], 0))
], [scaleBar(dScaleBar, 15)]);

// ---------- Panel E ----------
rowChart(PE, { top: 1593, bottom: 1707, min: 0, max: 80, padT: 22, padB: 20, axis: { ticks: [0, 40, 80], labels: [0, 80], pad: 7 } }, [
    dots(evenly(eSeg1, eSeg1Span)),
    dots(evenly(eSeg2, eSeg2Span)),
    dots(pts(eOut))
]);
rowChart(PE, { top: 1713, bottom: 1820, min: -75, max: 15, padT: 8, padB: 8 }, [
    whiteGaps(gaps(eGapT, 11, -50)),
    ...envelope(eEnvTop, eEnvBot, [0, eTraceEnd])
]);
rowChart(PE, { top: 1827, bottom: 1873, min: 0, max: 1, padT: 6, padB: 21 }, [
    sine(wave(eStimT, 0, 0.91, true, eStimStart, eStimEnd)),
    ink(pulses(ePulseT, 1), 1.2),
    ink(flat([eStimEnd[1][0], eTraceEnd - 0.1], 0))
], [scaleBar(eScaleBar, 16)]);

// ---------- texts ----------
[['A.', 27], ['B.', 422], ['C.', 807], ['D.', 1202], ['E.', 1558]].forEach(([s, b]) => text(s, 4, b, 27, true));
text('2 Hz', 140, 412, 30); text('100 pps', 368, 412, 30); text('2 s', 551, 417, 25);
text('5 Hz', 652, 163, 28); text('200 ms', 642, 345, 25);
text('2 Hz', 147, 792, 30); text('100 pps', 402, 792, 30); text('2 s', 558, 796, 25);
text('5 Hz', 648, 525, 28); text('200 ms', 648, 733, 25);
text('2 Hz', 200, 1183, 30); text('100 pps', 484, 1183, 30); text('2 s', 669, 1195, 25);
text('20 Hz', 142, 1547, 30); text('20 pps', 542, 1547, 30); text('1 s', 686, 1552, 25);
text('0.5 Hz', 183, 1913, 30); text('0.5 pps', 515, 1913, 30); text('5 s', 681, 1922, 25);
vtext(SPK, 42.5, 130, 28, 1.0);
vtext(SPK, 40, 522, 27, 0.92);
vtext(SPK, 40, 908, 28, 0.8);
vtext(SPK, 30, 1277, 28, 1.07);
vtext(SPK, 25, 1660, 28, 0.86);
vtext('AP Probability', 584, 224, 25, 1);
vtext('AP Probability', 586, 610, 25, 1);
</script>
</body>
</html>
